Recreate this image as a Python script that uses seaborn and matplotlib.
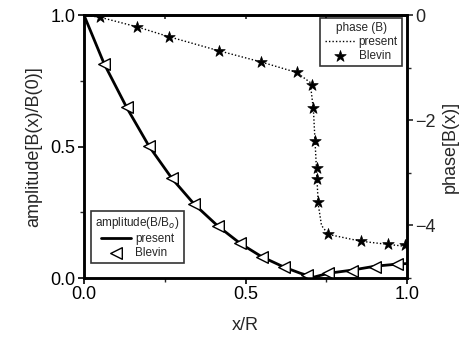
import numpy as np
import pandas as pd
import matplotlib
matplotlib.use("Agg")
import matplotlib.pyplot as plt
import seaborn as sns
from matplotlib.ticker import MultipleLocator

# ---------------------------------------------------------
# Data
# ---------------------------------------------------------
# amplitude, "present" curve
amp_line_x = [0.0, 0.062, 0.132, 0.201, 0.272, 0.341, 0.414, 0.483, 0.550, 0.620, 0.670, 0.710,
              0.756, 0.829, 0.901, 0.970, 1.0]
amp_line_y = [1.0, 0.816, 0.649, 0.502, 0.379, 0.281, 0.198, 0.132, 0.081, 0.041, 0.018, 0.003,
              0.018, 0.030, 0.045, 0.053, 0.055]

# amplitude, Blevin points
amp_pts_x = [0.062, 0.132, 0.201, 0.272, 0.341, 0.414, 0.483, 0.550, 0.620, 0.689,
             0.756, 0.829, 0.901, 0.970]
amp_pts_y = [0.816, 0.649, 0.502, 0.379, 0.281, 0.198, 0.132, 0.081, 0.041, 0.011,
             0.018, 0.028, 0.043, 0.052]

# phase, "present" curve
ph_line_x = [0.0, 0.05, 0.163, 0.263, 0.419, 0.548, 0.658, 0.700, 0.710, 0.715, 0.720, 0.725,
             0.735, 0.756, 0.857, 0.940, 1.0]
ph_line_y = [0.0, -0.04, -0.22, -0.41, -0.68, -0.89, -1.09, -1.28, -1.80, -2.40, -3.00, -3.60,
             -4.00, -4.17, -4.30, -4.36, -4.40]

# phase, Blevin points
ph_pts_x = [0.05, 0.163, 0.263, 0.419, 0.548, 0.658, 0.705, 0.710, 0.715, 0.720, 0.722, 0.725,
            0.756, 0.857, 0.940, 0.994]
ph_pts_y = [-0.04, -0.22, -0.41, -0.68, -0.89, -1.09, -1.33, -1.77, -2.40, -2.91, -3.11, -3.56,
            -4.16, -4.30, -4.36, -4.38]

# ---------------------------------------------------------
# Plot
# ---------------------------------------------------------
sns.set_theme(style="ticks")
plt.rcParams['font.family'] = ['Liberation Sans', 'DejaVu Sans']
plt.rcParams['axes.linewidth'] = 1.8

fig = plt.figure(figsize=(4.59, 3.37), dpi=100)
ax = fig.add_axes([0.183, 0.175, 0.704, 0.780])
ax2 = ax.twinx()

# amplitude (left axis)
sns.lineplot(x=amp_line_x, y=amp_line_y, ax=ax, color='black', linewidth=2.0,
             label='present', sort=False, zorder=2)
sns.scatterplot(x=amp_pts_x, y=amp_pts_y, ax=ax, marker='<', s=70, facecolor='white',
                edgecolor='black', linewidth=1.0, label='Blevin', zorder=3)

# phase (right axis)
sns.lineplot(x=ph_line_x, y=ph_line_y, ax=ax2, color='black', linewidth=1.0,
             linestyle=(0, (1, 1.5)), label='present', sort=False)
sns.scatterplot(x=ph_pts_x, y=ph_pts_y, ax=ax2, marker='*', s=75, color='black',
                edgecolor='black', linewidth=0.5, label='Blevin', zorder=3)

ax.set_xlim(0, 1)
ax.set_ylim(0, 1)
ax2.set_ylim(-5, 0)

ax.xaxis.set_minor_locator(MultipleLocator(0.25))
ax.yaxis.set_minor_locator(MultipleLocator(0.25))
ax2.yaxis.set_minor_locator(MultipleLocator(1))

ax.set_xticks([0, 0.5, 1.0])
ax.set_xticklabels(['0.0', '0.5', '1.0'])
ax.set_yticks([0, 0.5, 1.0])
ax.set_yticklabels(['0.0', '0.5', '1.0'])
ax2.set_yticks([0, -2, -4])
ax2.set_yticklabels(['0', '\u22122', '\u22124'])

ax.tick_params(axis='both', which='major', labelsize=13, length=4, width=1.2,
               direction='out', colors='black', pad=2)
ax.tick_params(axis='both', which='minor', length=3, width=1.0, direction='out')
ax2.tick_params(axis='y', which='major', labelsize=13, length=4, width=1.2,
                direction='out', pad=2)
ax2.tick_params(axis='y', which='minor', length=3, width=1.0, direction='out')

# top axis: short inward ticks, no labels
top = ax.secondary_xaxis('top')
top.set_xticks([0.25, 0.5, 0.75])
top.tick_params(axis='x', direction='in', length=3, width=1.2, labeltop=False)
top.spines['top'].set_linewidth(1.8)

for a in (ax, ax2):
    for s in a.spines.values():
        s.set_visible(True)
        s.set_color('black')
        s.set_linewidth(1.8)

ax.set_xlabel('x/R', fontsize=13, labelpad=10)
ax.set_ylabel('amplitude[B(x)/B(0)]', fontsize=13, labelpad=6)
ax2.set_ylabel('phase[B(x)]', fontsize=13, labelpad=4)

leg1 = ax.legend(title='amplitude(B/B$_o$)', loc='lower left',
                 bbox_to_anchor=(91 / 459, 1 - 263 / 337), bbox_transform=fig.transFigure,
                 fontsize=8.5, title_fontsize=8.5, frameon=True, fancybox=False,
                 edgecolor='black', handlelength=2.6, handletextpad=0.3,
                 borderpad=0.35, labelspacing=0.15, borderaxespad=0)
leg1.get_frame().set_linewidth(1.2)
leg1.set_zorder(5)

leg2 = ax2.legend(title='phase (B)', loc='upper right',
                  bbox_to_anchor=(402 / 459, 1 - 18 / 337), bbox_transform=fig.transFigure,
                  fontsize=8.5, title_fontsize=8.5, frameon=True, fancybox=False,
                  edgecolor='black', handlelength=2.6, handletextpad=0.3,
                  borderpad=0.35, labelspacing=0.15, borderaxespad=0)
leg2.get_frame().set_linewidth(1.2)

fig.savefig('out.png', dpi=100, facecolor='white')
